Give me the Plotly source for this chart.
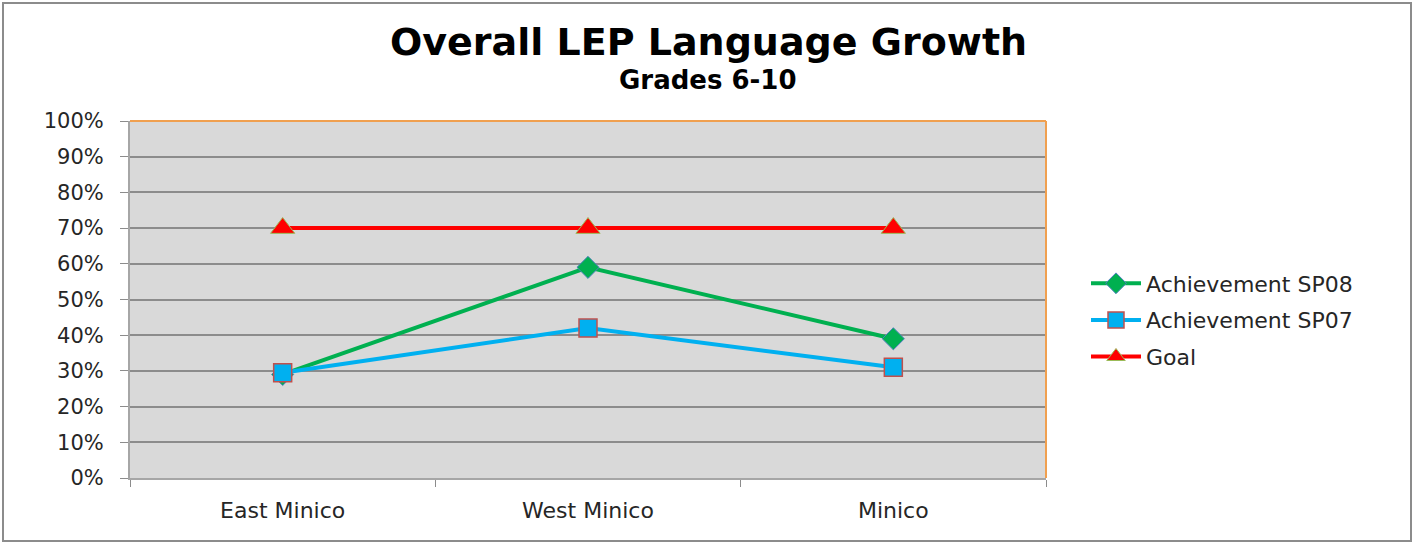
import plotly.graph_objects as go

categories = ["East Minico", "West Minico", "Minico"]
sp08 = [0.29, 0.59, 0.39]
sp07 = [0.295, 0.42, 0.31]
goal = [0.70, 0.70, 0.70]

W, H = 1419, 544
L, R, T, B = 130, 1046, 121, 478

def px(x):
    return (x - L) / (R - L)

def py(y):
    return (B - y) / (B - T)

FONT = "DejaVu Sans"

fig = go.Figure()
fig.add_trace(go.Scatter(
    x=categories, y=sp08, name="Achievement SP08", mode="lines+markers",
    legendgroup="a",
    line=dict(color="#00b050", width=4),
    marker=dict(symbol="diamond", size=17, color="#00b050",
                line=dict(color="#4f81bd", width=1))))
fig.add_trace(go.Scatter(
    x=categories, y=sp07, name="Achievement SP07", mode="lines+markers",
    legendgroup="b",
    line=dict(color="#00b0f0", width=4),
    marker=dict(symbol="square", size=18, color="#00b0f0",
                line=dict(color="#c0504d", width=1.5))))
fig.add_trace(go.Scatter(
    x=categories, y=goal, name="Goal", mode="lines+markers",
    legendgroup="c",
    line=dict(color="#ff0000", width=4),
    marker=dict(symbol="triangle-up", size=21, color="#ff0000",
                line=dict(color="#9bbb59", width=1))))

fig.update_layout(
    width=W, height=H,
    margin=dict(l=L, r=W - R, t=T, b=H - B),
    paper_bgcolor="white",
    plot_bgcolor="#d9d9d9",
    font=dict(family=FONT, size=20, color="#262626"),
    showlegend=True,
    legend=dict(x=px(1086), xanchor="left", y=py(320), yanchor="middle",
                font=dict(family=FONT, size=22, color="#262626"),
                bgcolor="rgba(0,0,0,0)", traceorder="grouped",
                tracegroupgap=5, itemwidth=50),
    annotations=[
        dict(text="<b>Overall LEP Language Growth</b>", x=px(708), y=py(42),
             xref="paper", yref="paper", showarrow=False,
             font=dict(family=FONT, size=38, color="black"),
             xanchor="center", yanchor="middle"),
        dict(text="<b>Grades 6-10</b>", x=px(708), y=py(80),
             xref="paper", yref="paper", showarrow=False,
             font=dict(family=FONT, size=26, color="black"),
             xanchor="center", yanchor="middle"),
    ],
    shapes=[
        dict(type="rect", xref="paper", yref="paper",
             x0=px(3), x1=px(1411), y0=py(541), y1=py(3),
             line=dict(color="#8c8c8c", width=2), layer="below"),
        dict(type="line", xref="paper", yref="paper",
             x0=0, x1=1, y0=1, y1=1, line=dict(color="#f0a050", width=2)),
        dict(type="line", xref="paper", yref="paper",
             x0=1, x1=1, y0=0, y1=1, line=dict(color="#f0a050", width=2)),
    ],
)

fig.update_xaxes(
    type="category", range=[-0.5, 2.5], tickson="boundaries",
    ticks="outside", ticklen=7, tickcolor="#8c8c8c", tickwidth=1,
    showline=True, linecolor="#a6a6a6", linewidth=2,
    showgrid=False, zeroline=False, ticklabelstandoff=12,
    tickfont=dict(family=FONT, size=22, color="#262626"),
)
fig.update_yaxes(
    range=[0, 1], dtick=0.1, tickformat=".0%",
    ticks="outside", ticklen=8, tickcolor="#8c8c8c", tickwidth=1,
    showline=True, linecolor="#a6a6a6", linewidth=2,
    showgrid=True, gridcolor="#8c8c8c", gridwidth=1.5, zeroline=False,
    ticklabelstandoff=12,
    tickfont=dict(family=FONT, size=21, color="#262626"),
)

fig.write_html("out.html", config={"displayModeBar": False},
               post_script="document.body.style.margin='0';document.body.style.overflow='hidden';")
